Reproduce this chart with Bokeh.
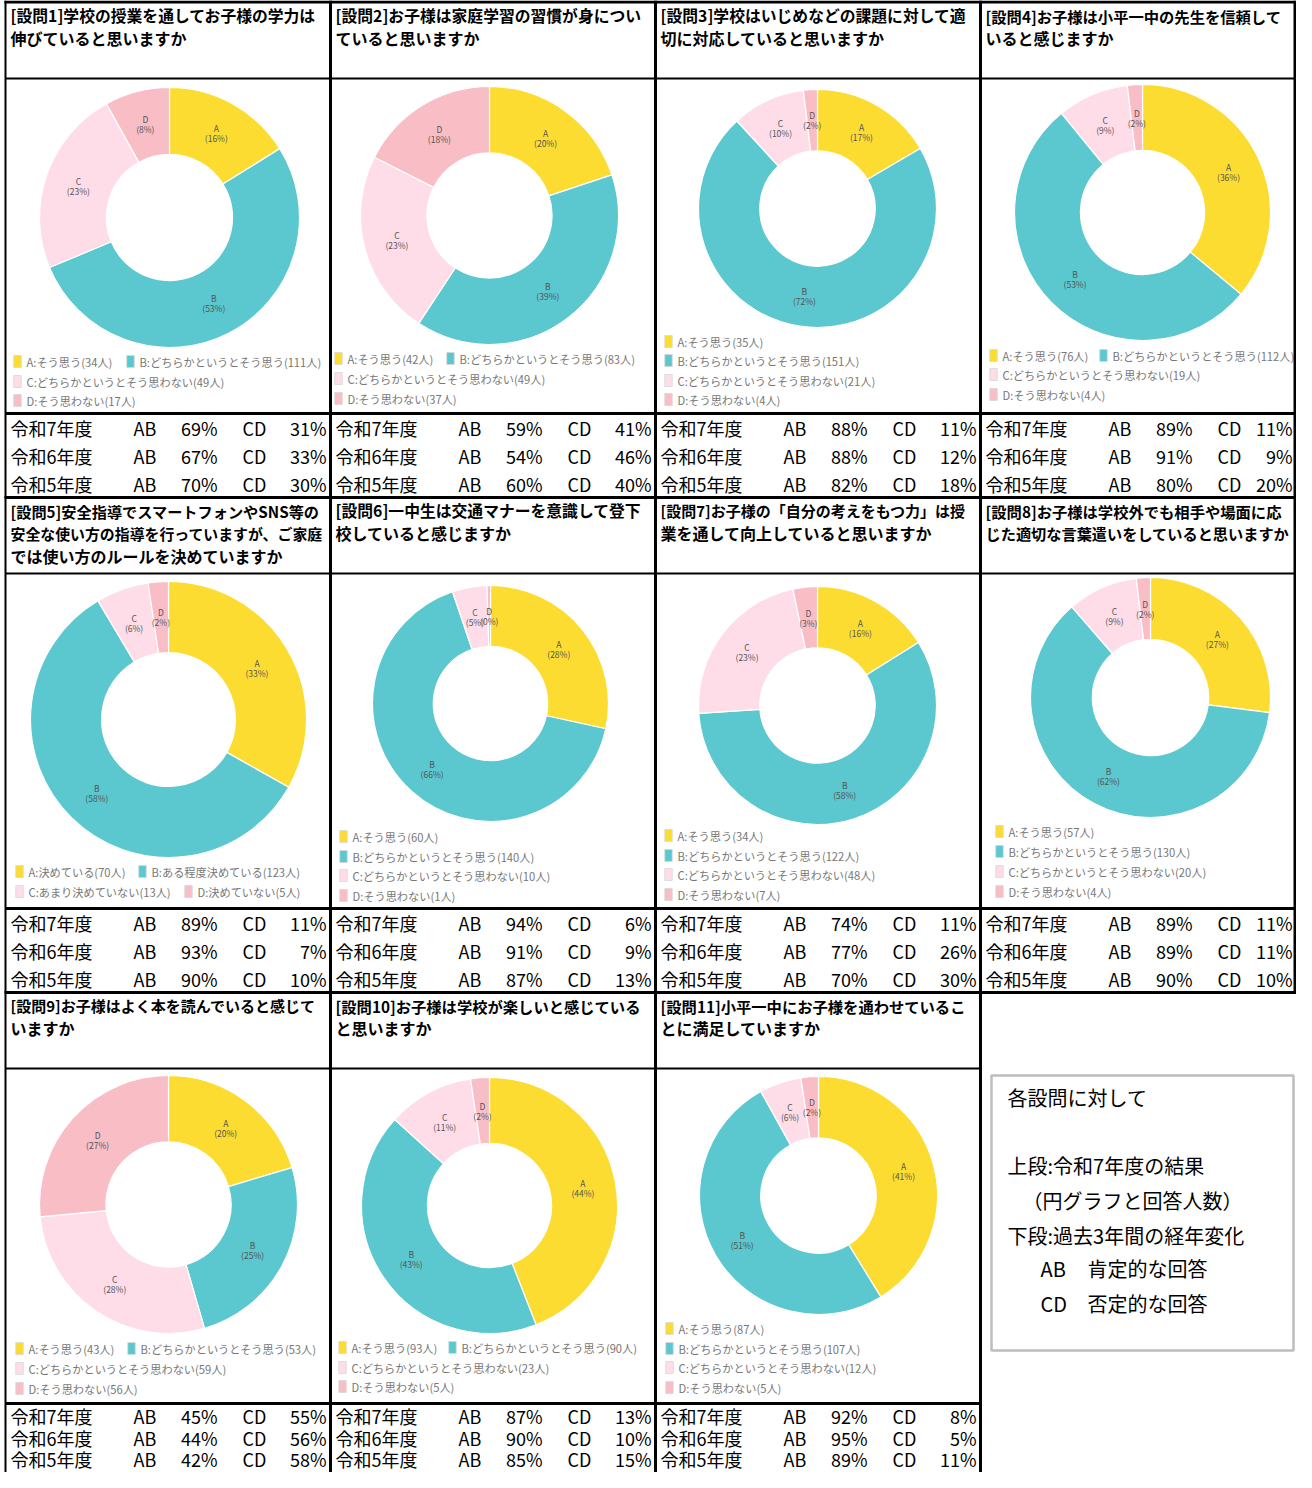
import math
from bokeh.plotting import figure
from bokeh.models import ColumnDataSource, Range1d
from bokeh.core.properties import value
from bokeh.embed import file_html
from bokeh.resources import INLINE

# ---------------- data ----------------
categories = ["A", "B", "C", "D"]
titles = [
    ["[設問1]学校の授業を通してお子様の学力は", "伸びていると思いますか"],
    ["[設問2]お子様は家庭学習の習慣が身につい", "ていると思いますか"],
    ["[設問3]学校はいじめなどの課題に対して適", "切に対応していると思いますか"],
    ["[設問4]お子様は小平一中の先生を信頼して", "いると感じますか"],
    ["[設問5]安全指導でスマートフォンやSNS等の", "安全な使い方の指導を行っていますが、ご家庭", "では使い方のルールを決めていますか"],
    ["[設問6]一中生は交通マナーを意識して登下", "校していると感じますか"],
    ["[設問7]お子様の「自分の考えをもつ力」は授", "業を通して向上していると思いますか"],
    ["[設問8]お子様は学校外でも相手や場面に応", "じた適切な言葉遣いをしていると思いますか"],
    ["[設問9]お子様はよく本を読んでいると感じて", "いますか"],
    ["[設問10]お子様は学校が楽しいと感じている", "と思いますか"],
    ["[設問11]小平一中にお子様を通わせているこ", "とに満足していますか"],
]
answer_names = ["そう思う", "どちらかというとそう思う", "どちらかというとそう思わない", "そう思わない"]
answer_names_q5 = ["決めている", "ある程度決めている", "あまり決めていない", "決めていない"]

counts_A = [34, 42, 35, 76, 70, 60, 34, 57, 43, 93, 87]
counts_B = [111, 83, 151, 112, 123, 140, 122, 130, 53, 90, 107]
counts_C = [49, 49, 21, 19, 13, 10, 48, 20, 59, 23, 12]
counts_D = [17, 37, 4, 4, 5, 1, 7, 4, 56, 5, 5]

years = ["令和7年度", "令和6年度", "令和5年度"]
ab_r7 = [69, 59, 88, 89, 89, 94, 74, 89, 45, 87, 92]
cd_r7 = [31, 41, 11, 11, 11, 6, 11, 11, 55, 13, 8]
ab_r6 = [67, 54, 88, 91, 93, 91, 77, 89, 44, 90, 95]
cd_r6 = [33, 46, 12, 9, 7, 9, 26, 11, 56, 10, 5]
ab_r5 = [70, 60, 82, 80, 90, 87, 70, 90, 42, 85, 89]
cd_r5 = [30, 40, 18, 20, 10, 13, 30, 10, 58, 15, 11]

note_lines = ["各設問に対して", "上段:令和7年度の結果", "（円グラフと回答人数）", "下段:過去3年間の経年変化"]
note_keys = ["AB", "CD"]
note_key_texts = ["肯定的な回答", "否定的な回答"]

# ---------------- styles / layout ----------------
colors = ["#FDDC32", "#5BC7CF", "#FEDDE9", "#F9BDC6"]
FONT = "Noto Sans CJK JP"
col_x = [5, 330, 655, 980]
col_right = [330, 655, 980, 1295]
row_top = [2, 497, 992]
table_top = [413, 908, 1403]
table_rows_y = [[427, 455, 483], [922, 950, 978], [1415, 1437, 1458]]
donut_centers = [(169, 217), (489, 215), (817, 208), (1142, 212), (168, 719), (490, 703),
                 (817, 705), (1150, 697), (168, 1204), (489, 1205), (818, 1195)]
donut_radii = [130, 129, 119, 128, 138, 118, 119, 120, 129, 128, 119]
hole_ratio = 0.485
legend_pos = [
    [(17, 361), (130, 361), (17, 381), (17, 400)],
    [(338, 358), (450, 358), (338, 378), (338, 398)],
    [(668, 341), (668, 360), (668, 380), (668, 399)],
    [(993, 355), (1103, 355), (993, 374), (993, 394)],
    [(19, 871), (142, 871), (19, 891), (188, 891)],
    [(343, 836), (343, 856), (343, 875), (343, 895)],
    [(668, 835), (668, 855), (668, 874), (668, 894)],
    [(999, 831), (999, 851), (999, 871), (999, 891)],
    [(19, 1348), (131, 1348), (19, 1368), (19, 1388)],
    [(342, 1347), (452, 1347), (342, 1367), (342, 1386)],
    [(669, 1328), (669, 1348), (669, 1367), (669, 1387)],
]

W, H = 1296, 1472
p = figure(width=W, height=H, x_range=Range1d(0, W), y_range=Range1d(-H, 0),
           output_backend="svg", toolbar_location=None, min_border=0,
           x_axis_location=None, y_axis_location=None)
p.grid.visible = False
p.outline_line_color = None
p.background_fill_color = "white"
p.border_fill_color = "white"

def Y(v):
    return -v

# ---------------- donuts ----------------
wd = dict(x=[], y=[], s=[], e=[], c=[], ri=[], ro=[])
lab = dict(x=[], y1=[], y2=[], t1=[], t2=[])
leg_m = dict(x=[], y=[], c=[])
leg_t = dict(x=[], y=[], t=[])
n = len(counts_A)
for i in range(n):
    vals = [counts_A[i], counts_B[i], counts_C[i], counts_D[i]]
    tot = sum(vals)
    cx, cy = donut_centers[i]
    ro = donut_radii[i]
    ri = ro * hole_ratio
    rm = (ri + ro) / 2
    cum = 0
    names = answer_names_q5 if i == 4 else answer_names
    for k, v in enumerate(vals):
        f0 = cum / tot
        cum += v
        f1 = cum / tot
        wd["x"].append(cx); wd["y"].append(Y(cy))
        wd["s"].append(math.pi / 2 - 2 * math.pi * f0)
        wd["e"].append(math.pi / 2 - 2 * math.pi * f1)
        wd["c"].append(colors[k]); wd["ri"].append(ri); wd["ro"].append(ro)
        th = math.pi / 2 - 2 * math.pi * (f0 + f1) / 2
        lxp = cx + rm * math.cos(th)
        lyp = Y(cy) + rm * math.sin(th)
        lab["x"].append(lxp); lab["y1"].append(lyp + 5); lab["y2"].append(lyp - 5)
        lab["t1"].append(categories[k])
        lab["t2"].append("(%d%%)" % int(v / tot * 100 + 0.5))
        mx, my = legend_pos[i][k]
        leg_m["x"].append(mx); leg_m["y"].append(Y(my)); leg_m["c"].append(colors[k])
        leg_t["x"].append(mx + 9); leg_t["y"].append(Y(my))
        leg_t["t"].append("%s:%s(%d人)" % (categories[k], names[k], v))

p.annular_wedge(x="x", y="y", inner_radius="ri", outer_radius="ro", start_angle="s",
                end_angle="e", direction="clock", fill_color="c", line_color="white",
                line_width=1.2, source=ColumnDataSource(wd))
p.text(x="x", y="y1", text="t1", source=ColumnDataSource(lab), text_font=value(FONT),
       text_font_size="8.5px", text_color="#555555", text_align="center", text_baseline="middle")
p.text(x="x", y="y2", text="t2", source=ColumnDataSource(lab), text_font=value(FONT),
       text_font_size="8.5px", text_color="#555555", text_align="center", text_baseline="middle")
p.rect(x="x", y="y", width=7.5, height=12, fill_color="c", line_color="#d8d8d8", line_width=0.8,
       source=ColumnDataSource(leg_m))
p.text(x="x", y="y", text="t", source=ColumnDataSource(leg_t), text_font=value(FONT),
       text_font_size="11.2px", text_color="#777777", text_align="left", text_baseline="middle")

# ---------------- headers ----------------
def em_width(s):
    return sum(0.6 if ord(ch) < 128 else 1.0 for ch in s)

hd = dict(x=[], y=[], t=[], fs=[])
for i in range(n):
    r, c = divmod(i, 4)
    avail = min(314.0, col_right[c] - col_x[c] - 12)
    for j, line in enumerate(titles[i]):
        hd["x"].append(col_x[c] + 5)
        hd["y"].append(Y(row_top[r] + 13 + 22.5 * j))
        hd["t"].append(line)
        size = min(16.0, avail / em_width(line))
        hd["fs"].append("%.1fpx" % size)
p.text(x="x", y="y", text="t", source=ColumnDataSource(hd), text_font=value(FONT),
       text_font_size="fs", text_font_style="bold", text_color="black",
       text_align="left", text_baseline="middle")

# ---------------- tables ----------------
tl = dict(x=[], y=[], t=[])
tr = dict(x=[], y=[], t=[])
ab_all = [ab_r7, ab_r6, ab_r5]
cd_all = [cd_r7, cd_r6, cd_r5]
for i in range(n):
    r, c = divmod(i, 4)
    x0 = col_x[c]
    right = min(x0 + 321, col_right[c] - 3)
    for k in range(3):
        yy = Y(table_rows_y[r][k])
        tl["x"] += [x0 + 5, x0 + 128, x0 + 237]
        tl["y"] += [yy, yy, yy]
        tl["t"] += [years[k], "AB", "CD"]
        tr["x"] += [x0 + 212, right]
        tr["y"] += [yy, yy]
        tr["t"] += ["%d%%" % ab_all[k][i], "%d%%" % cd_all[k][i]]
p.text(x="x", y="y", text="t", source=ColumnDataSource(tl), text_font=value(FONT),
       text_font_size="18px", text_color="black", text_align="left", text_baseline="middle")
p.text(x="x", y="y", text="t", source=ColumnDataSource(tr), text_font=value(FONT),
       text_font_size="18px", text_color="black", text_align="right", text_baseline="middle")

# ---------------- grid lines ----------------
sg = dict(x0=[], y0=[], x1=[], y1=[], w=[])
def seg(a, b, c_, d, w):
    sg["x0"].append(a); sg["y0"].append(Y(b)); sg["x1"].append(c_); sg["y1"].append(Y(d)); sg["w"].append(w)
for i in range(n):
    r, c = divmod(i, 4)
    x0 = col_x[c]
    seg(x0, row_top[r] + 76, col_right[c], row_top[r] + 76, 2)
    seg(x0, table_top[r], col_right[c], table_top[r], 3)
seg(4, 1.5, 1295, 1.5, 3)
seg(4, 497, 1295, 497, 3)
seg(4, 992, 1295, 992, 3)
seg(5, 0, 5, 1472, 2)
for xv in [330, 655, 980]:
    seg(xv, 0, xv, 1472, 3)
seg(1294.5, 0, 1294.5, 993.5, 3)
p.segment(x0="x0", y0="y0", x1="x1", y1="y1", line_width="w", line_color="black",
          source=ColumnDataSource(sg))

# ---------------- note box ----------------
p.quad(left=[991], right=[1293], top=[Y(1075)], bottom=[Y(1350)], fill_color="white",
       line_color="#bdbdbd", line_width=2.5)
note_x = [1007, 1007, 1022, 1007]
note_y = [1097, 1165, 1200, 1235]
p.text(x=note_x, y=[Y(v) for v in note_y], text=note_lines, text_font=value(FONT),
       text_font_size="20px", text_color="black", text_align="left", text_baseline="middle")
key_y = [1268, 1303]
p.text(x=[1040, 1040], y=[Y(v) for v in key_y], text=note_keys, text_font=value(FONT),
       text_font_size="20px", text_color="black", text_align="left", text_baseline="middle")
p.text(x=[1087, 1087], y=[Y(v) for v in key_y], text=note_key_texts, text_font=value(FONT),
       text_font_size="20px", text_color="black", text_align="left", text_baseline="middle")

open("out.html", "w").write(file_html(p, INLINE))
